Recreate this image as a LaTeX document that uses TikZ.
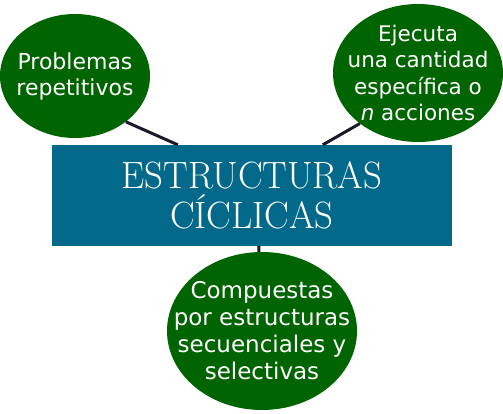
\documentclass[tikz,border=0pt]{standalone}
\usepackage{fontspec}
\usetikzlibrary{shapes.geometric,calc}
\newfontfamily\labelfont{DejaVu Sans}
\definecolor{bubblegreen}{HTML}{006400}
\definecolor{titleblue}{HTML}{02698B}
\definecolor{linkcol}{HTML}{1A1A2A}
\begin{document}
\begin{tikzpicture}[x=1pt,y=1pt,
  bubble/.style={ellipse,fill=bubblegreen,inner sep=-40pt,text=white,align=center,
     font=\labelfont\fontsize{21.5}{26}\selectfont},
  titlebox/.style={rectangle,fill=titleblue,inner sep=0pt,minimum width=400pt,minimum height=101pt,
     text=white,align=center,font=\rmfamily\fontsize{38}{40}\selectfont},
  link/.style={draw=linkcol,line width=3pt}]
\useasboundingbox (0,0) rectangle (503,413);
\node[titlebox] (r) at (252,217.5) {\scalebox{0.97}[1]{ESTRUCTURAS}\\\scalebox{0.97}[1]{CÍCLICAS}};
\node[bubble,minimum width=150pt,minimum height=124pt,font=\labelfont\fontsize{22}{26}\selectfont] (l) at (75,337) {Problemas\\repetitivos};
\node[bubble,minimum width=170pt,minimum height=138pt,font=\labelfont\fontsize{21.5}{26.5}\selectfont] (rt) at (418,340) {Ejecuta\\una cantidad\\específica o\\\textit{n} acciones};
\node[bubble,minimum width=190pt,minimum height=158pt,font=\labelfont\fontsize{23}{27}\selectfont] (b) at (262,82) {Compuestas\\por estructuras\\secuenciales y\\selectivas};
\draw[link] (l.-42) -- ($(r.north west)+(126,0)$);
\draw[link] (rt.221.5) -- ($(r.north west)+(271,0)$);
\draw[link] ($(b.north)+(-3,0)$) -- ($(r.south west)+(207,0)$);
\end{tikzpicture}
\end{document}
